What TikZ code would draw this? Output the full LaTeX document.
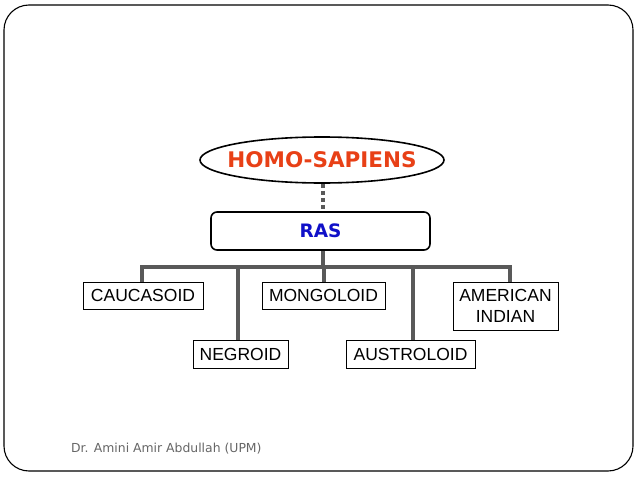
\documentclass[tikz,border=0pt]{standalone}
\usepackage{fontspec}
\usetikzlibrary{shapes.geometric}
\setmainfont{Liberation Sans}
\newfontfamily\verd{DejaVu Sans}
\begin{document}
\begin{tikzpicture}[x=1pt,y=-1pt,
  leaf/.style={draw=black,line width=0.9pt,inner sep=0pt,align=center,font=\fontsize{17.5}{21.5}\selectfont},
  bus/.style={draw=black!65,line width=4pt},
  dots/.style={draw=black!65,line width=4pt,dash pattern=on 4pt off 3pt}]
\useasboundingbox (0,0) rectangle (638,479);
\draw[line width=1.1pt,rounded corners=25pt] (4,5) rectangle (633,471);
\node[ellipse,draw=black,line width=1.6pt,minimum width=244pt,minimum height=46pt,inner sep=0pt,
  font=\verd\bfseries\fontsize{21.5}{24}\selectfont,text={rgb,255:red,232;green,64;blue,22}] (homo) at (322,160) {\makebox[0pt]{HOMO-SAPIENS}};
\node[draw=black,line width=1.6pt,rounded corners=6pt,minimum width=219pt,minimum height=38pt,inner sep=0pt,
  font=\verd\bfseries\fontsize{18.5}{21}\selectfont,text={rgb,255:red,16;green,16;blue,200}] (ras) at (320.5,231) {RAS};
\node[leaf,minimum width=120pt,minimum height=27pt] (cau) at (143,295.5) {CAUCASOID};
\node[leaf,minimum width=123pt,minimum height=27pt] (mon) at (323.5,295.5) {MONGOLOID};
\node[leaf,minimum width=105pt,minimum height=48pt] (ame) at (505.5,306) {AMERICAN\\INDIAN};
\node[leaf,minimum width=95pt,minimum height=28pt] (neg) at (240.5,354) {NEGROID};
\node[leaf,minimum width=129pt,minimum height=28pt] (aus) at (410.5,354) {AUSTROLOID};
\coordinate (busL) at (142,267);
\coordinate (busR) at (510,267);
\draw[dots] ([xshift=1pt]homo.south) -- ([xshift=2.5pt]ras.north);
\draw[bus] ([xshift=2.5pt]ras.south) -- ([xshift=2.5pt]ras.south |- busL);
\draw[bus,line cap=rect] (busL) -- (busR);
\draw[bus] (busL) -- (busL |- cau.north);
\draw[bus] (busR) -- (busR |- ame.north);
\draw[bus] (mon.north |- busL) -- (mon.north);
\draw[bus] ([xshift=-2.5pt]neg.north |- busL) -- ([xshift=-2.5pt]neg.north);
\draw[bus] ([xshift=2.5pt]aus.north |- busL) -- ([xshift=2.5pt]aus.north);
\node[anchor=base west,inner sep=0pt,text=black!60,font=\verd\fontsize{12.4}{14}\selectfont] (foot) at (71,452) {Dr. Amini Amir Abdullah (UPM)};
\end{tikzpicture}
\end{document}
